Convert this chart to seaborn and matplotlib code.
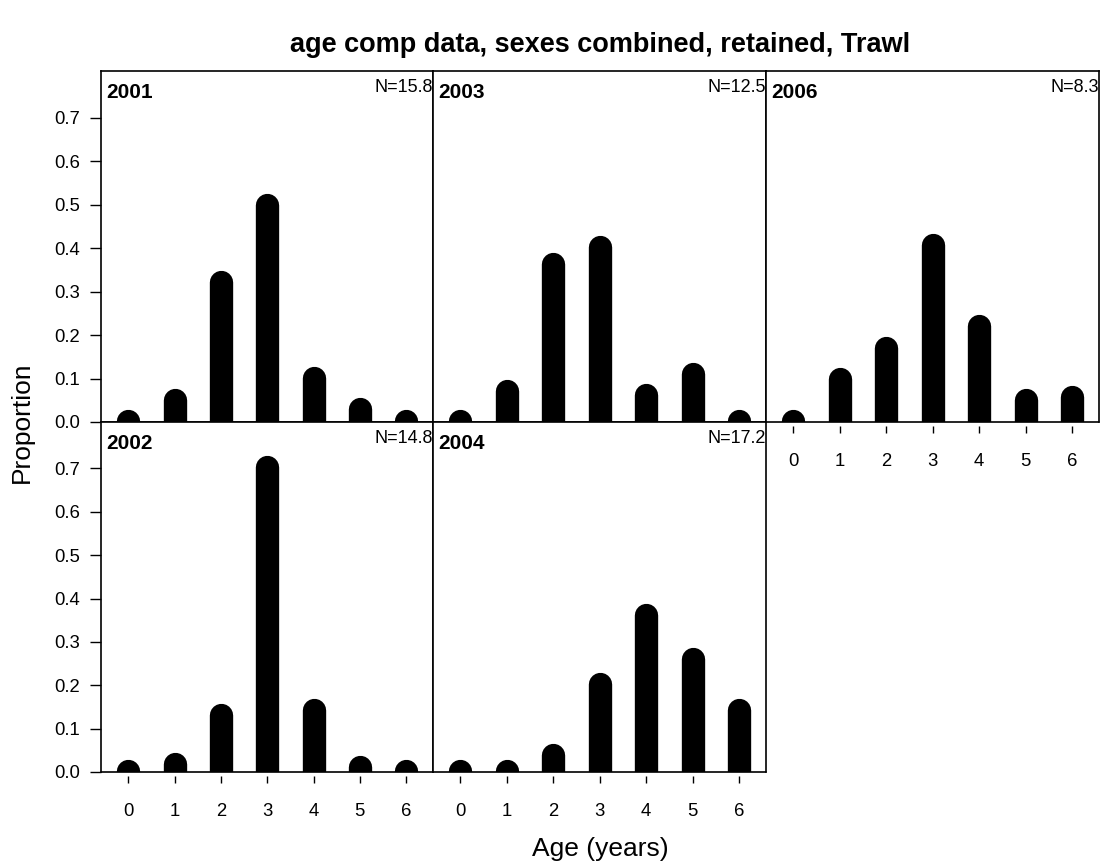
import matplotlib
matplotlib.use("Agg")
import matplotlib.pyplot as plt
import numpy as np
import pandas as pd
import seaborn as sns

# ---- data ----
ages = [0, 1, 2, 3, 4, 5, 6]
years = [2001, 2002, 2003, 2004, 2006]
prop_2001 = [0.003, 0.050, 0.323, 0.498, 0.102, 0.029, 0.003]
prop_2002 = [0.003, 0.019, 0.131, 0.704, 0.142, 0.012, 0.003]
prop_2003 = [0.003, 0.071, 0.363, 0.403, 0.061, 0.110, 0.003]
prop_2004 = [0.003, 0.003, 0.040, 0.202, 0.361, 0.261, 0.142]
prop_2006 = [0.003, 0.098, 0.169, 0.406, 0.220, 0.050, 0.058]
n_labels = {2001: "N=15.8", 2002: "N=14.8", 2003: "N=12.5", 2004: "N=17.2", 2006: "N=8.3"}
yticks = [0.0, 0.1, 0.2, 0.3, 0.4, 0.5, 0.6, 0.7]
title = "age comp data, sexes combined, retained, Trawl"
xlabel = "Age (years)"
ylabel = "Proportion"

props = {2001: prop_2001, 2002: prop_2002, 2003: prop_2003, 2004: prop_2004, 2006: prop_2006}

sns.set_style("white")
plt.rcParams['font.family'] = ['Liberation Sans', 'DejaVu Sans']
plt.rcParams['text.color'] = 'black'
plt.rcParams['axes.labelcolor'] = 'black'
plt.rcParams['xtick.color'] = 'black'
plt.rcParams['ytick.color'] = 'black'
plt.rcParams['xtick.labelcolor'] = 'black'
plt.rcParams['ytick.labelcolor'] = 'black'

W, H = 1104, 864
fig = plt.figure(figsize=(W / 100, H / 100), dpi=100)

# panel geometry in pixels
col_left = [101, 433, 766]
col_w = [332, 333, 333]
row_top = [71, 422]
row_h = [351, 350]
# (year, row, col)
layout = [(2001, 0, 0), (2002, 1, 0), (2003, 0, 1), (2004, 1, 1), (2006, 0, 2)]

XLIM = (-0.59, 6.58)
YLIM = (0, 0.807)

for year, r, c in layout:
    l = col_left[c] / W
    b = 1 - (row_top[r] + row_h[r]) / H
    w = col_w[c] / W
    h = row_h[r] / H
    ax = fig.add_axes([l, b, w, h])
    vals = props[year]
    df = pd.DataFrame({
        "age": [a for a in ages for _ in range(2)],
        "prop": [v for v in vals for v in (0.0, v)],
        "unit": [a for a in ages for _ in range(2)],
    })
    sns.lineplot(data=df, x="age", y="prop", units="unit", estimator=None,
                 sort=False, color="black", linewidth=16.8,
                 solid_capstyle="round", ax=ax, legend=False)
    ax.set_xlim(*XLIM)
    ax.set_ylim(*YLIM)
    ax.set_xlabel("")
    ax.set_ylabel("")
    for s in ax.spines.values():
        s.set_visible(True)
        s.set_color("black")
        s.set_linewidth(1.2)
    # bottom frame line drawn as zero line; bottom spine offset for tick gap
    ax.spines['bottom'].set_position(('outward', 3))
    ax.spines['bottom'].set_color('none')
    ax.axhline(0, color="black", linewidth=1.2, clip_on=False, zorder=5)

    has_xaxis = (r == 1) or (year == 2006)
    if has_xaxis:
        ax.set_xticks(ages)
        ax.set_xticklabels([str(a) for a in ages])
        ax.tick_params(axis="x", direction="out", length=5, width=1.0,
                       pad=14, labelsize=13.3, bottom=True, color="black",
                       labelcolor="black")
    else:
        ax.set_xticks([])
    if c == 0:
        ax.set_yticks(yticks)
        ax.set_yticklabels([f"{t:.1f}" for t in yticks])
        ax.tick_params(axis="y", direction="out", length=8, width=1.0,
                       pad=7, labelsize=13.3, left=True, color="black",
                       labelcolor="black")
    else:
        ax.set_yticks([])

    ax.text(0.015, 0.967, str(year), transform=ax.transAxes, ha="left",
            va="top", fontsize=15, fontweight="bold", color="black")
    ax.text(1.0, 0.978, n_labels[year], transform=ax.transAxes, ha="right",
            va="top", fontsize=13, color="black")

fig.text(600 / W, 1 - 45 / H, title, ha="center", va="center",
         fontsize=19.5, fontweight="bold", color="black")
fig.text(600 / W, 1 - 849 / H, xlabel, ha="center", va="center", fontsize=19,
         color="black")
fig.text(22 / W, 1 - 422 / H, ylabel, ha="center", va="center",
         rotation=90, fontsize=19, color="black")

fig.savefig("out.png", dpi=100)
